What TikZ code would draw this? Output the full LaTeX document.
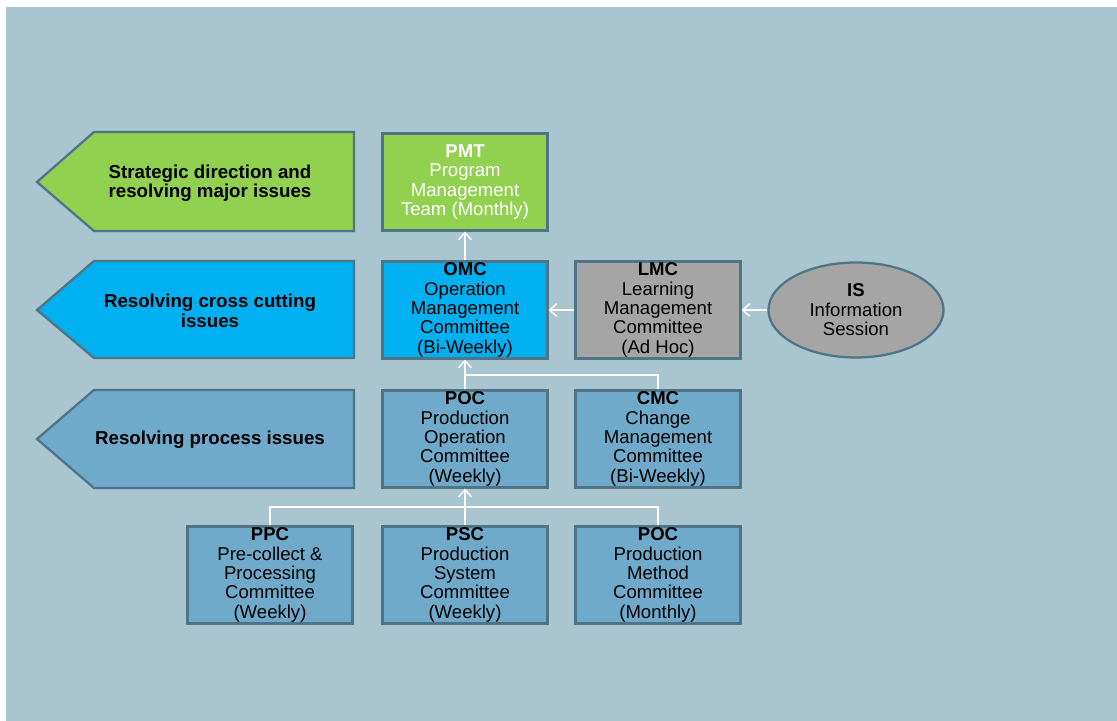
\documentclass[tikz,border=0pt]{standalone}
\usepackage{fontspec}
\setmainfont{Liberation Sans}
\usetikzlibrary{calc, positioning, shapes.geometric, arrows.meta}
\definecolor{bgcol}{RGB}{168,197,208}
\definecolor{edgecol}{RGB}{78,116,134}
\definecolor{leafgreen}{RGB}{146,208,80}
\definecolor{skycyan}{RGB}{0,176,240}
\definecolor{midgray}{RGB}{165,165,165}
\definecolor{steel}{RGB}{112,170,203}
\tikzset{
  font=\fontsize{13.2}{13.8}\selectfont,
  % Set arrowhead
  >={Straight Barb[length=5pt,width=9pt]},
  % Committee box
  cbox/.style={draw=edgecol, line width=1.6pt, shape=rectangle,
    minimum width=4.125cm, minimum height=2.425cm, inner sep=0pt,
    align=center},
  % Left banner
  banner/.style={draw=edgecol, line width=1.6pt},
  btext/.style={font=\fontsize{13.3}{13.8}\selectfont\bfseries, align=center},
  % Connectors
  link/.style={white, line width=1pt},
  flow/.style={link, ->},
}
\begin{document}
\begin{tikzpicture}[x=0.025cm, y=-0.025cm]
  \useasboundingbox (0,0) rectangle (1117,721);
  \fill[bgcol] (6,7) rectangle (1117,721);

  % banners
  \draw[banner, fill=leafgreen] (354,132) -- (94,132) -- (37,182) -- (94,231) -- (354,231) -- cycle;
  \draw[banner, fill=skycyan] (354,261) -- (94,261) -- (37,310) -- (94,358) -- (354,358) -- cycle;
  \draw[banner, fill=steel] (354,390) -- (94,390) -- (37,439) -- (94,488) -- (354,488) -- cycle;
  \node[btext] (b1) at (210,183) {Strategic direction and\\resolving major issues};
  \node[btext] (b2) at (210,311) {Resolving cross cutting\\issues};
  \node[btext] (b3) at (210,440) {Resolving process issues};

  % committees
  \node[cbox, fill=leafgreen, text=white] (pmt) at (465,182)
    {\textbf{PMT}\\Program\\Management\\Team (Monthly)};
  \node[cbox, fill=skycyan] (omc) at (465,310)
    {\textbf{OMC}\\Operation\\Management\\Committee\\(Bi-Weekly)};
  \node[cbox, fill=midgray] (lmc) at (658,310)
    {\textbf{LMC}\\Learning\\Management\\Committee\\(Ad Hoc)};
  \node[draw=edgecol, line width=1.6pt, fill=midgray, ellipse,
    minimum width=4.375cm, minimum height=2.375cm, inner sep=0pt,
    align=center] (is) at (856,310)
    {\textbf{IS}\\Information\\Session};
  \node[cbox, fill=steel] (poc) at (465,439)
    {\textbf{POC}\\Production\\Operation\\Committee\\(Weekly)};
  \node[cbox, fill=steel] (cmc) at (658,439)
    {\textbf{CMC}\\Change\\Management\\Committee\\(Bi-Weekly)};
  \node[cbox, fill=steel] (ppc) at (270,575)
    {\textbf{PPC}\\Pre-collect \&\\Processing\\Committee\\(Weekly)};
  \node[cbox, fill=steel] (psc) at (465,575)
    {\textbf{PSC}\\Production\\System\\Committee\\(Weekly)};
  \node[cbox, fill=steel] (pmc) at (658,575)
    {\textbf{POC}\\Production\\Method\\Committee\\(Monthly)};

  \coordinate (j1) at (465,375);
  \coordinate (j2) at (465,507);

  \draw[flow] (omc) -- (pmt);
  \draw[flow] (lmc) -- (omc);
  \draw[flow] (is) -- (lmc);
  \draw[flow] (poc) -- (omc);
  \draw[link] (cmc.north) |- (j1);
  \draw[flow] (psc) -- (poc);
  \draw[link] (ppc.north) |- (j2) -| (pmc.north);
\end{tikzpicture}
\end{document}
